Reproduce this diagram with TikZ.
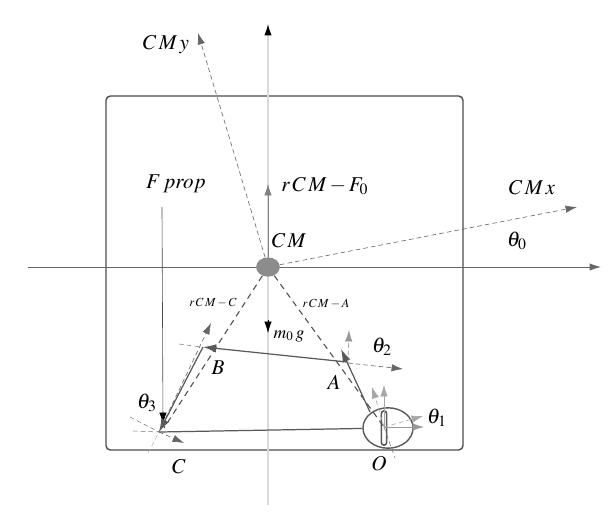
\documentclass[tikz,border=0pt]{standalone}
\usepackage{amsmath}
\usepackage{mathptmx}
\usetikzlibrary{positioning, calc, arrows.meta, shapes.geometric}

\tikzset{
    tip/.style={-{Latex[length=6.5pt,width=4.2pt]}},
    axis/.style={tip, line width=0.35pt, draw=black!65},
    link/.style={-{Latex[length=7.5pt,width=4.8pt]}, line width=0.7pt, draw=black!65},
    bar/.style={line width=0.7pt, draw=black!65},
    frame/.style={tip, dash pattern=on 2.6pt off 1.8pt, line width=0.35pt, draw=black!60},
    frameline/.style={dash pattern=on 2.6pt off 1.8pt, line width=0.3pt, draw=black!55},
    arm/.style={dash pattern=on 3.4pt off 2.6pt, line width=0.6pt, draw=black!70},
    lab/.style={inner sep=0pt, font=\large},
    smalllab/.style={inner sep=0pt, font=\scriptsize}
}

\begin{document}
\begin{tikzpicture}[x=0.02cm, y=-0.02cm]
    \useasboundingbox (0,0) rectangle (608,515);

    % frame of the picture
    \draw[line width=0.8pt, draw=black!70, rounded corners=2.5pt] (106,96) rectangle (463,450);

    % fixed points
    \coordinate (west) at (28,267);
    \coordinate (east) at (601,267);
    \coordinate (south) at (268,505);
    \coordinate (north) at (268,24);
    \coordinate (cmyend) at (198,33);
    \coordinate (cmxend) at (577,207);
    \coordinate (f0end) at (268,184);
    \coordinate (gstart) at (268,320);
    \coordinate (gend) at (268,333);
    \coordinate (pstart) at (162,207);
    \coordinate (pend) at (163,424);
    \coordinate (a) at (348,363);
    \coordinate (atop) at (349,330);
    \coordinate (aright) at (403,369);
    \coordinate (b) at (202,347);
    \coordinate (bleft) at (179,344);
    \coordinate (btop) at (211,323);
    \coordinate (c) at (159,432);
    \coordinate (cright) at (184,443);
    \coordinate (cnw) at (130,417);
    \coordinate (cwest) at (133,431);
    \coordinate (csouth) at (148,453);
    \coordinate (o) at (384,427);
    \coordinate (otail) at (395,458);
    \coordinate (oup) at (384,385);
    \coordinate (oright) at (424,427);
    \coordinate (oupd) at (372,387);
    \coordinate (orightd) at (423,416);
    \coordinate (armc) at (164,428);
    \coordinate (alink) at (370,412);
    \coordinate (alinkend) at (341,349);
    \coordinate (blink) at (347,362);
    \coordinate (clink) at (203,347);

    % axes
    \draw[line width=0.7pt, draw=black!15, -{Latex[length=6.5pt,width=4.2pt,black]}] (south) -- (north);
    \draw[axis, draw=black!60, line width=0.5pt] (west) -- (east);

    \node[ellipse, fill=black!45, minimum width=13.5pt, minimum height=11pt, inner sep=0pt] (cm) at (268,267) {};
    \node[ellipse, draw=black!65, line width=0.8pt, minimum width=28.5pt, minimum height=23pt, inner sep=0pt] (joint) at (388,428) {};
    \node[rectangle, rounded corners=1.5pt, draw=black!65, line width=0.9pt, minimum width=3pt, minimum height=19.5pt, inner sep=0pt] (wheel) at (384,428) {};

    % body axes
    \draw
        (cm) edge[frame] (cmyend)
        (cm) edge[frame] (cmxend)
        (cm) edge[axis, draw=black!50, line width=0.35pt] (f0end)
        (gstart) edge[tip, line width=0.3pt, black] (gend)
        (pstart) edge[line width=0.35pt, draw=black!70, -{Latex[length=6.5pt,width=4.2pt,black]}] (pend)
        ;

    % arms
    \draw
        (cm) edge[arm] (armc)
        (cm) edge[arm] (o)
        ;

    % links
    \draw
        (alink) edge[link] (alinkend)
        (blink) edge[link] (clink)
        (joint) edge[bar] (c)
        (clink) edge[link] (c)
        ;

    % local frames
    \draw
        (a) edge[frame, draw=black!40] (atop)
        (a) edge[frame] (aright)
        (bleft) edge[frameline] (b)
        (c) edge[frame] (btop)
        (c) edge[frame] (cright)
        (cnw) edge[frameline] (c)
        (cwest) edge[frameline] (c)
        (csouth) edge[frameline, draw=black!30] (c)
        (o) edge[frameline] (otail)
        (o) edge[axis, draw=black!35] (oup)
        (o) edge[axis, draw=black!40] (oright)
        (o) edge[frame, draw=black!35] (oupd)
        (o) edge[frame, draw=black!35] (orightd)
        ;

    % labels
    \node[lab] (cmylab) at (166,45) {$C\,M\,y$};
    \node[lab] (cmxlab) at (532,188) {$C\,M\,x$};
    \node[lab] (th0lab) at (517,241) {$\theta_0$};
    \node[lab] (fplab) at (176,184) {$F\,prop$};
    \node[lab] (f0lab) at (325,186) {$r\,C\,M-F_0$};
    \node[lab] (cmlab) at (289,241) {$C\,M$};
    \node[smalllab] (clab) at (213,303) {$r\,C\,M-C$};
    \node[smalllab] (alab) at (326,304) {$r\,C\,M-A$};
    \node[font=\normalsize, inner sep=0pt] (glab) at (289,336) {$m_0\,g$};
    \node[lab] (th2lab) at (382,347) {$\theta_2$};
    \node[lab] (blab) at (218,368) {$B$};
    \node[lab] (albl) at (334,382) {$A$};
    \node[lab] (th1lab) at (437,418) {$\theta_1$};
    \node[lab] (th3lab) at (147,403) {$\theta_3$};
    \node[lab] (cclab) at (179,467) {$C$};
    \node[lab] (olab) at (379,464) {$O$};
\end{tikzpicture}
\end{document}
